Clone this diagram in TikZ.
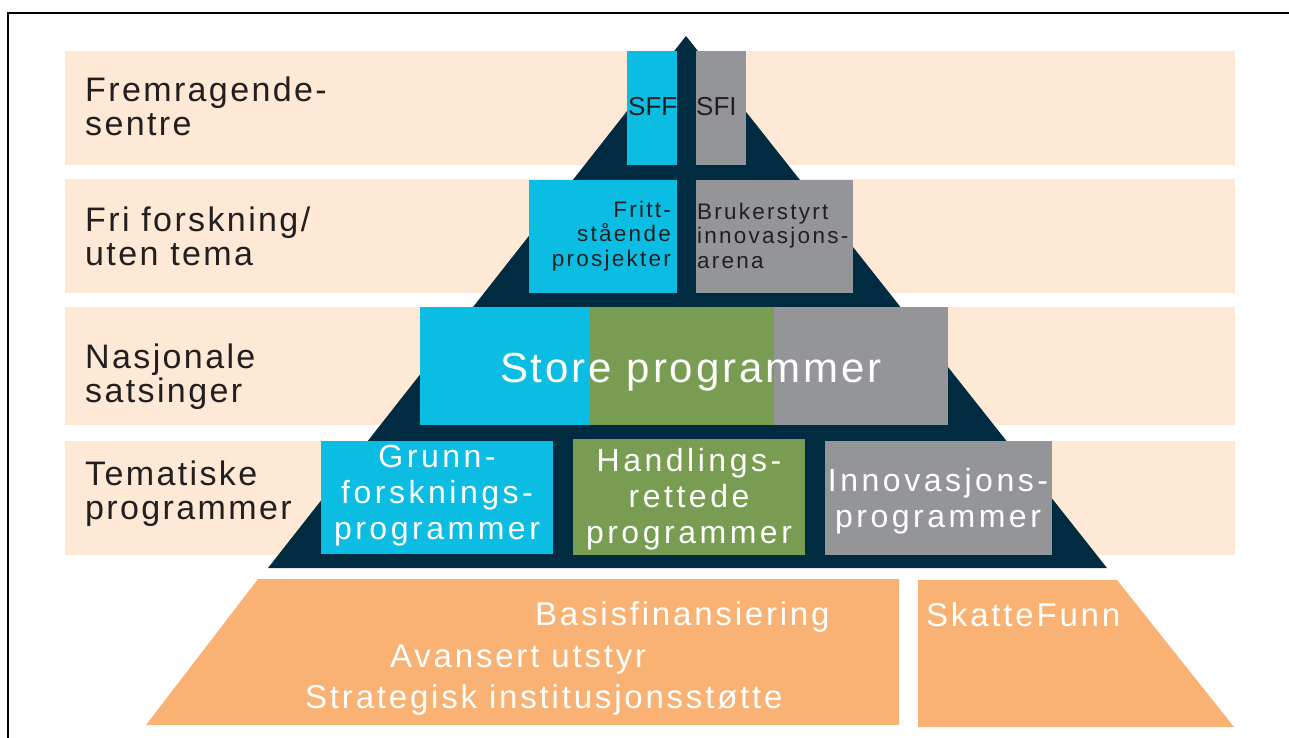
\documentclass[tikz,border=0pt]{standalone}
\usepackage{fontspec}
\setmainfont{Liberation Sans}
\newfontfamily\labfont[LetterSpace=7]{Liberation Sans}
\newfontfamily\boxfont[LetterSpace=11]{Liberation Sans}
\newfontfamily\smallfont[LetterSpace=10]{Liberation Sans}
\newfontfamily\storefont[LetterSpace=7]{Liberation Sans}
\newfontfamily\basfont[LetterSpace=8.5]{Liberation Sans}
\newfontfamily\sfffont{Liberation Sans}
\definecolor{cyanbox}{HTML}{0BBDE3}
\definecolor{graybox}{HTML}{939598}
\definecolor{greenbox}{HTML}{789C51}
\definecolor{navy}{HTML}{002B41}
\definecolor{beige}{HTML}{FDE9D5}
\definecolor{orangebase}{HTML}{F9B273}
\definecolor{txt}{HTML}{231F20}
\begin{document}
\begin{tikzpicture}[x=1pt,y=-1pt,
  lab/.style={inner sep=0, align=left, text=txt, font=\labfont\fontsize{34}{34}\selectfont},
  sfftext/.style={inner sep=0, text=txt, font=\sfffont\fontsize{26}{26}\selectfont},
  smalltext/.style={inner sep=0, text=txt, font=\smallfont\fontsize{22.5}{24.5}\selectfont},
  boxtext/.style={inner sep=0, align=center, text=white, font=\boxfont\fontsize{32}{36}\selectfont},
  storetext/.style={inner sep=0, text=white, font=\storefont\fontsize{42}{42}\selectfont},
  basetext/.style={inner sep=0, text=white, font=\basfont\fontsize{33}{33}\selectfont}]
\useasboundingbox (0,0) rectangle (1289,738);
% frame
\draw[line width=2pt, black] (8,742) -- (8,13) -- (1295,13);
% bands
\fill[beige] (65,51) rectangle (1235,165);
\fill[beige] (65,179) rectangle (1235,293);
\fill[beige] (65,307) rectangle (1235,425);
\fill[beige] (65,441) rectangle (1235,555);
% pyramid
\fill[navy] (686,36) -- (1107,568) -- (268,568) -- cycle;
% top row
\fill[cyanbox] (627,51) rectangle (677,165);
\fill[graybox] (696,51) rectangle (746,165);
% second row
\fill[cyanbox] (529,180) rectangle (677,293);
\fill[graybox] (696,180) rectangle (853,293);
% third row
\fill[cyanbox] (420,307) rectangle (590,425);
\fill[greenbox] (590,307) rectangle (774,425);
\fill[graybox] (774,307) rectangle (948,425);
% fourth row
\fill[cyanbox] (321,441) rectangle (553,554);
\fill[greenbox] (573,439) rectangle (805,555);
\fill[graybox] (825,441) rectangle (1052,555);
% base
\fill[orangebase] (146,725) -- (258,579) -- (899,579) -- (899,725) -- cycle;
\fill[orangebase] (918,580) -- (1117,580) -- (1234,727) -- (918,727) -- cycle;
% left labels (anchor at baseline of last line)
\node[lab, anchor=base west] (l1) at (85,136) {Fremragende-\\sentre};
\node[lab, anchor=base west] (l2) at (85,265) {Fri forskning/\\uten tema};
\node[lab, anchor=base west] (l3) at (85,402) {Nasjonale\\satsinger};
\node[lab, anchor=base west] (l4) at (85,519) {Tematiske\\programmer};
% box texts
\node[sfftext, anchor=base west] (sff) at (628,116) {SFF};
\node[sfftext, anchor=base west] (sfi) at (696,116) {SFI};
\node[smalltext, align=right, anchor=base east] (fritt) at (671,266) {Fritt-\\stående\\prosjekter};
\node[smalltext, align=left, anchor=base west] (bruk) at (697,268) {Brukerstyrt\\innovasjons-\\arena};
\node[storetext, anchor=base] (store) at (691,382) {Store programmer};
\node[boxtext, anchor=base] (grunn) at (437,539) {Grunn-\\forsknings-\\programmer};
\node[boxtext, anchor=base] (handl) at (689,543) {Handlings-\\rettede\\programmer};
\node[boxtext, anchor=base] (innov) at (938,527) {Innovasjons-\\programmer};
% base texts
\node[basetext, anchor=base west] (basis) at (535,625) {Basisfinansiering};
\node[basetext, anchor=base west] (avans) at (390,667) {Avansert utstyr};
\node[basetext, anchor=base west] (strat) at (305,708) {Strategisk institusjonsstøtte};
\node[basetext, anchor=base west] (skatt) at (926,626) {SkatteFunn};
\end{tikzpicture}
\end{document}
